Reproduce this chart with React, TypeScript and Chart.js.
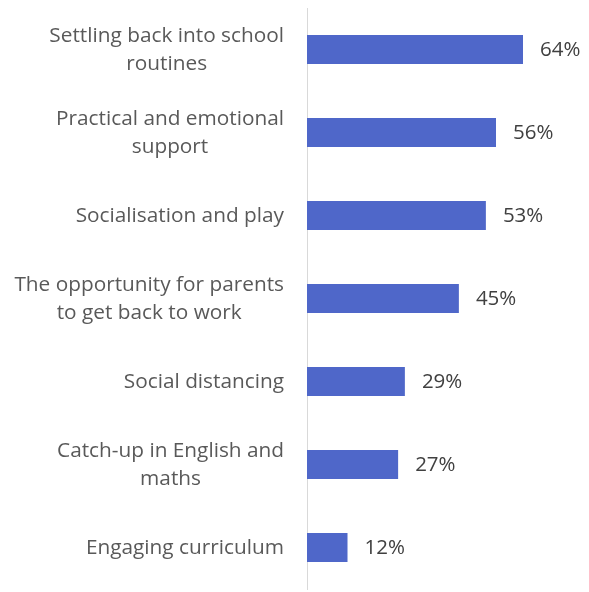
import React, { useEffect, useRef } from "react";
import { Chart, registerables } from "chart.js";

Chart.register(...registerables);

const categories: string[][] = [
  ["Settling back into school", "routines"],
  ["Practical and emotional", "support"],
  ["Socialisation and play"],
  ["The opportunity for parents", "to get back to work"],
  ["Social distancing"],
  ["Catch-up in English and", "maths"],
  ["Engaging curriculum"],
];
const values: number[] = [64, 56, 53, 45, 29, 27, 12];

const FONT = "'Open Sans', sans-serif";

const labelsPlugin = {
  id: "labelsPlugin",
  afterDatasetsDraw(chart: any) {
    const ctx = chart.ctx;
    const meta = chart.getDatasetMeta(0);
    const yScale = chart.scales.y;
    ctx.save();
    // value labels
    ctx.font = `20.5px ${FONT}`;
    ctx.fillStyle = "#404040";
    ctx.textAlign = "left";
    ctx.textBaseline = "middle";
    meta.data.forEach((bar: any, i: number) => {
      ctx.fillText(values[i] + "%", bar.x + 17, bar.y + 1);
    });
    // category labels: block right-aligned, lines centred
    ctx.font = `20.8px ${FONT}`;
    ctx.fillStyle = "#595959";
    ctx.textAlign = "center";
    const rightEdge = chart.chartArea.left - 23;
    const lineGap = 28;
    categories.forEach((lines, i) => {
      const cy = yScale.getPixelForValue(i) + 1;
      const w = Math.max(...lines.map((l) => ctx.measureText(l).width));
      const cx = rightEdge - w / 2;
      const start = cy - ((lines.length - 1) * lineGap) / 2;
      lines.forEach((l, j) => ctx.fillText(l, cx, start + j * lineGap));
    });
    ctx.restore();
  },
};

export default function App() {
  const ref = useRef<HTMLCanvasElement>(null);
  useEffect(() => {
    if (!ref.current) return;
    const chart = new Chart(ref.current, {
      type: "bar",
      data: {
        labels: categories.map((c) => c.join(" ")),
        datasets: [
          {
            data: values,
            backgroundColor: "#4F67C9",
            barPercentage: 0.7,
            categoryPercentage: 0.5,
          },
        ],
      },
      options: {
        indexAxis: "y",
        animation: false,
        responsive: false,
        maintainAspectRatio: false,
        layout: { padding: { top: 8, bottom: 3, right: 12, left: 0 } },
        plugins: { legend: { display: false }, tooltip: { enabled: false } },
        scales: {
          x: { display: false, min: 0, max: 80 },
          y: {
            grid: { display: false, drawTicks: false },
            border: { display: true, color: "#D9D9D9", width: 1 },
            ticks: { display: false },
            afterFit(scale: any) {
              scale.width = 307;
            },
          },
        },
      },
      plugins: [labelsPlugin],
    });
    return () => chart.destroy();
  }, []);
  return (
    <div style={{ position: "absolute", left: 0, top: 0, width: 589, height: 592, background: "#fff" }}>
      <canvas ref={ref} width={589} height={592} />
    </div>
  );
}
